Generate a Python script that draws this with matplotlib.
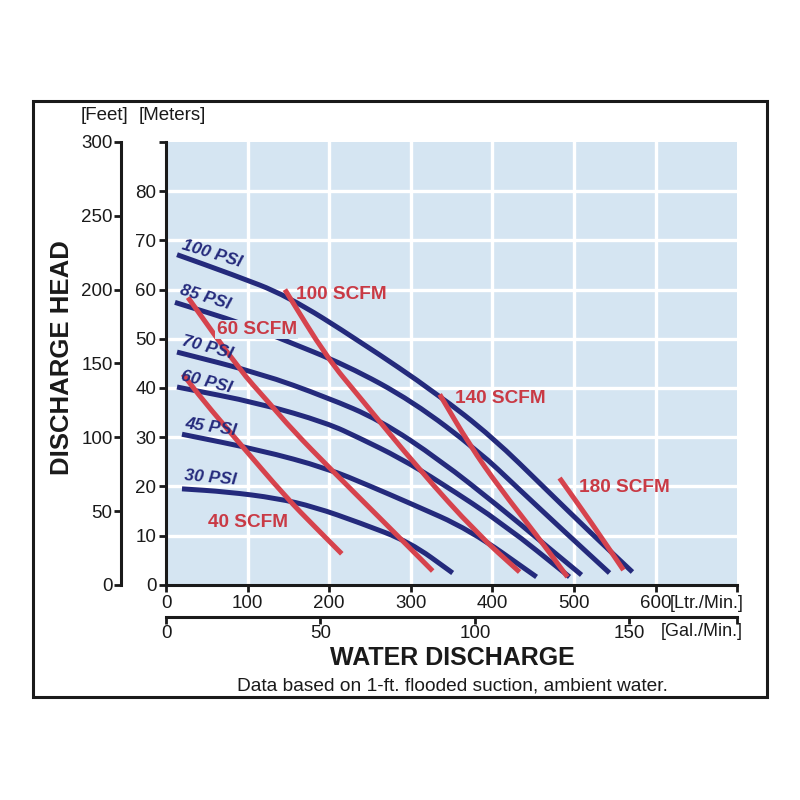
import matplotlib
matplotlib.use('Agg')
import matplotlib.pyplot as plt
from matplotlib.patches import Rectangle, PathPatch
from matplotlib.path import Path

plt.rcParams['font.family'] = ['Liberation Sans', 'DejaVu Sans']

NAVY = '#242a7c'
RED = '#d6434d'
RED_TXT = '#c93a45'
BG = '#d5e5f2'
INK = '#1a1a1a'

# air pressure curves: flow [Ltr/Min] vs head [m]
psi_100_x = [13.5, 80.8, 148.1, 237.5, 331.7, 400.2, 466.3, 519.0, 571.6]
psi_100_y = [67.1, 63.1, 58.8, 49.5, 38.9, 30.0, 19.3, 10.8, 2.6]
psi_85_x = [11.0, 94.2, 139.5, 221.5, 302.3, 384.3, 429.6, 488.4, 543.5]
psi_85_y = [57.4, 53.1, 50.1, 44.6, 37.3, 27.0, 19.9, 10.8, 2.4]
psi_70_x = [13.5, 115.1, 197.1, 261.9, 335.4, 408.8, 459.0, 509.2]
psi_70_y = [47.3, 43.0, 38.1, 33.5, 25.4, 15.8, 8.9, 2.0]
psi_60_x = [13.5, 115.1, 197.1, 237.5, 286.4, 335.4, 414.9, 494.5]
psi_60_y = [40.2, 36.9, 32.9, 29.8, 25.8, 20.9, 12.2, 1.6]
psi_45_x = [19.6, 115.1, 197.1, 249.7, 298.7, 372.1, 454.1]
psi_45_y = [30.6, 27.4, 23.7, 20.1, 16.6, 11.2, 1.6]
psi_30_x = [19.6, 74.7, 135.9, 182.4, 237.5, 298.7, 351.3]
psi_30_y = [19.5, 18.9, 17.6, 15.8, 12.6, 8.7, 2.4]

# air consumption curves
scfm_40_x = [20.8, 45.3, 86.9, 148.1, 182.4, 215.4]
scfm_40_y = [42.8, 37.5, 29.4, 17.6, 11.8, 6.3]
scfm_60_x = [26.9, 90.6, 123.6, 155.4, 200.7, 263.2, 326.8]
scfm_60_y = [58.4, 43.6, 37.5, 31.4, 23.7, 13.4, 2.8]
scfm_100_x = [145.7, 197.1, 237.5, 310.9, 380.7, 433.3]
scfm_100_y = [60.0, 46.2, 38.1, 23.3, 10.5, 2.6]
scfm_140_x = [335.4, 372.1, 408.8, 454.1, 492.0]
scfm_140_y = [38.7, 28.4, 19.7, 10.1, 1.6]
scfm_180_x = [482.3, 521.4, 560.6]
scfm_180_y = [21.7, 12.6, 3.0]

psi_curves = [(psi_100_x, psi_100_y), (psi_85_x, psi_85_y), (psi_70_x, psi_70_y),
              (psi_60_x, psi_60_y), (psi_45_x, psi_45_y), (psi_30_x, psi_30_y)]
scfm_curves = [(scfm_40_x, scfm_40_y), (scfm_60_x, scfm_60_y), (scfm_100_x, scfm_100_y),
               (scfm_140_x, scfm_140_y), (scfm_180_x, scfm_180_y)]

psi_labels = ['100 PSI', '85 PSI', '70 PSI', '60 PSI', '45 PSI', '30 PSI']
psi_label_xy = [(56, 67.3), (48, 58.4), (51, 48.3), (50, 41.2), (55, 32.0), (55, 21.8)]
psi_label_rot = [-17, -17, -15, -14, -8, -5]
scfm_labels = ['40 SCFM', '60 SCFM', '100 SCFM', '140 SCFM', '180 SCFM']
scfm_label_xy = [(100, 12.6), (111, 51.9), (215, 59.0), (410, 37.9), (562, 19.7)]

ltr_ticks = [0, 100, 200, 300, 400, 500, 600, 700]
ltr_labels = ['0', '100', '200', '300', '400', '500', '600', '']
m_ticks = [0, 10, 20, 30, 40, 50, 60, 70, 80, 90]
m_labels = ['0', '10', '20', '30', '40', '50', '60', '70', '80', '']
ft_ticks = [0, 50, 100, 150, 200, 250, 300]
gal_ticks = [0, 50, 100, 150, 700 / 3.785]
gal_labels = ['0', '50', '100', '150', '']


def smooth_curve(ax, xs, ys, color, zorder):
    # quadratic bezier through the read points, so the curve has no kinks
    pts = list(zip(xs, ys))
    verts = [pts[0]]
    codes = [Path.MOVETO]
    if len(pts) > 2:
        mids = [((a[0] + b[0]) / 2, (a[1] + b[1]) / 2) for a, b in zip(pts[:-1], pts[1:])]
        verts.append(mids[0])
        codes.append(Path.LINETO)
        for p, m in zip(pts[1:-1], mids[1:]):
            verts += [p, m]
            codes += [Path.CURVE3, Path.CURVE3]
    verts.append(pts[-1])
    codes.append(Path.LINETO)
    patch = PathPatch(Path(verts, codes), facecolor='none', edgecolor=color, lw=3.6,
                      capstyle='butt', zorder=zorder)
    ax.add_patch(patch)


fig = plt.figure(figsize=(8, 8), dpi=100)
ax = fig.add_axes([0.2075, 0.269, 0.714, 0.5535])
ax.set_facecolor(BG)
ax.set_xlim(0, 700)
ax.set_ylim(0, 90)

for gx in ltr_ticks[1:-1]:
    ax.axvline(gx, color='white', lw=2.4, zorder=1)
for gy in m_ticks[1:-1]:
    ax.axhline(gy, color='white', lw=2.4, zorder=1)

for x, y in psi_curves:
    smooth_curve(ax, x, y, NAVY, 3)
for x, y in scfm_curves:
    smooth_curve(ax, x, y, RED, 4)

for lab, (lx, ly), rot in zip(psi_labels, psi_label_xy, psi_label_rot):
    ax.text(lx, ly, lab, color=NAVY, fontsize=12.5, fontweight='bold', fontstyle='italic',
            rotation=rot, ha='center', va='center', rotation_mode='anchor', zorder=5)
for lab, (lx, ly) in zip(scfm_labels, scfm_label_xy):
    box = None
    if lab == '60 SCFM':
        box = dict(facecolor=BG, edgecolor='none', pad=1)
    ax.text(lx, ly, lab, color=RED_TXT, fontsize=13.7, fontweight='bold',
            ha='center', va='center', zorder=6, bbox=box)

for s in ['top', 'right']:
    ax.spines[s].set_visible(False)
for s in ['left', 'bottom']:
    ax.spines[s].set_linewidth(2.2)
    ax.spines[s].set_color(INK)
ax.set_xticks(ltr_ticks, ltr_labels)
ax.set_yticks(m_ticks, m_labels)
ax.tick_params(length=5, width=2, color=INK, labelsize=13.5, labelcolor=INK, pad=2)

ft = ax.secondary_yaxis(-0.0788, functions=(lambda m: m * 300 / 90, lambda f: f * 90 / 300))
ft.set_yticks(ft_ticks)
ft.spines['left'].set_linewidth(2.2)
ft.spines['left'].set_color(INK)
ft.tick_params(length=5, width=2, color=INK, labelsize=13.5, labelcolor=INK, pad=1)

gal = ax.secondary_xaxis(-0.0722, functions=(lambda l: l / 3.785, lambda g: g * 3.785))
gal.set_xticks(gal_ticks, gal_labels)
gal.spines['bottom'].set_linewidth(2.2)
gal.spines['bottom'].set_color(INK)
gal.tick_params(length=5, width=2, color=INK, labelsize=13.5, labelcolor=INK, pad=1)

fig.text(0.13, 0.856, '[Feet]', fontsize=13.5, color=INK, ha='center', va='center')
fig.text(0.216, 0.856, '[Meters]', fontsize=13.5, color=INK, ha='center', va='center')
fig.text(0.0775, 0.5525, 'DISCHARGE HEAD', fontsize=18.5, fontweight='bold', color=INK,
         rotation=90, ha='center', va='center')
fig.text(0.565, 0.1775, 'WATER DISCHARGE', fontsize=18, fontweight='bold', color=INK,
         ha='center', va='center')
fig.text(0.566, 0.1425, 'Data based on 1-ft. flooded suction, ambient water.', fontsize=13.8,
         color=INK, ha='center', va='center')
fig.text(0.8375, 0.246, '[Ltr./Min.]', fontsize=13, color=INK, ha='left', va='center')
fig.text(0.8255, 0.21, '[Gal./Min.]', fontsize=13, color=INK, ha='left', va='center')

fig.patches.append(Rectangle((0.041, 0.129), 0.9175, 0.745, transform=fig.transFigure,
                             fill=False, lw=2.2, edgecolor=INK))

fig.savefig('out.png', dpi=100)
